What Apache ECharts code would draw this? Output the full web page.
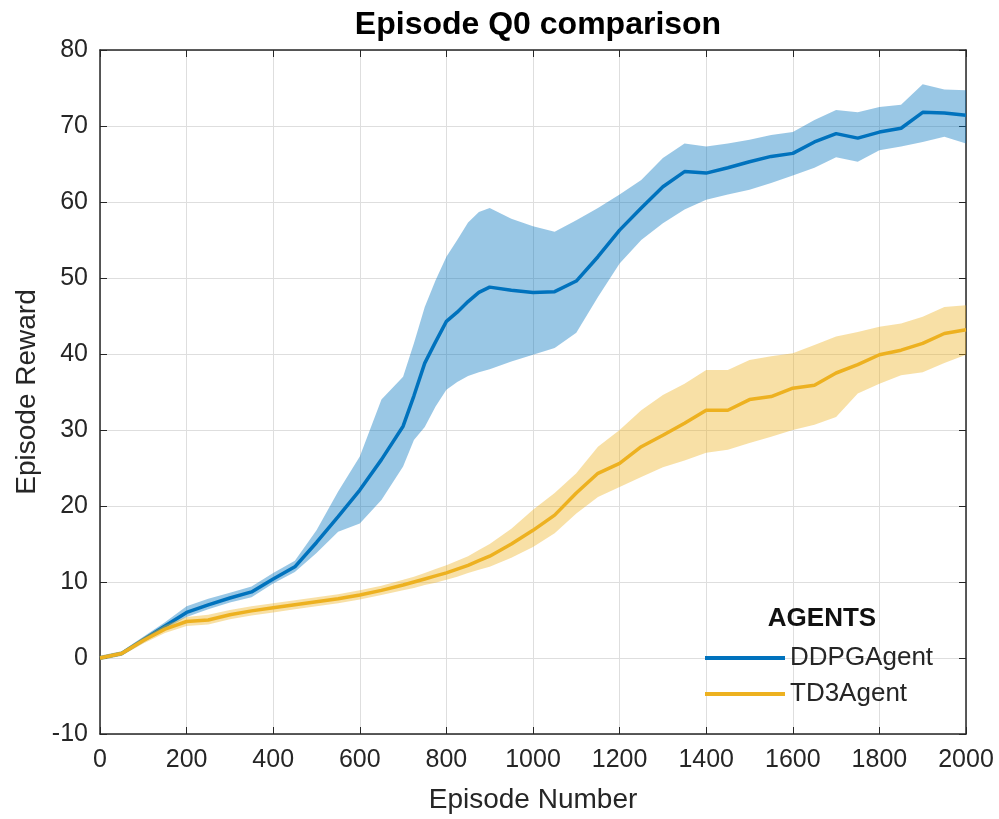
<!DOCTYPE html>
<html>
<head>
<meta charset="utf-8">
<script src="https://cdn.jsdelivr.net/npm/echarts@6/dist/echarts.min.js"></script>
<style>html,body{margin:0;padding:0;background:#fff}#c{width:999px;height:819px}</style>
</head>
<body>
<div id="c"></div>
<script>
const episodes = [0,50,100,150,200,250,300,350,400,450,500,550,600,650,700,725,750,775,800,825,850,875,900,950,1000,1050,1100,1150,1200,1250,1300,1350,1400,1450,1500,1550,1600,1650,1700,1750,1800,1850,1900,1950,2000];
const ddpgMean  = [0,0.6,2.4,4.2,6.0,7.0,7.9,8.7,10.4,12.0,15.2,18.6,22.1,26.1,30.5,34.5,38.8,41.6,44.3,45.5,46.9,48.1,48.8,48.4,48.1,48.2,49.6,52.8,56.3,59.2,62.0,64.0,63.8,64.5,65.3,66.0,66.4,67.9,69.0,68.4,69.2,69.7,71.8,71.7,71.4];
const ddpgUpper = [0.3,0.9,2.8,4.7,6.8,7.8,8.6,9.4,11.2,12.8,16.8,21.9,26.5,34.0,37.0,41.4,46.2,49.7,52.8,55.0,57.3,58.7,59.2,57.8,56.8,56.1,57.6,59.2,61.0,62.9,65.8,67.7,67.3,67.7,68.2,68.8,69.2,70.8,72.1,71.8,72.5,72.8,75.5,74.8,74.7];
const ddpgLower = [-0.3,0.3,2.0,3.8,5.4,6.4,7.3,8.0,9.8,11.3,13.8,16.6,17.7,20.8,25.2,28.7,30.4,33.1,35.3,36.3,37.1,37.6,38.0,39.0,39.9,40.8,42.8,47.5,51.9,55.0,57.2,59.0,60.3,61.0,61.6,62.5,63.5,64.5,65.9,65.3,66.8,67.3,67.9,68.6,67.7];
const td3Mean   = [0,0.6,2.3,3.8,4.8,5.0,5.7,6.2,6.6,7.0,7.4,7.8,8.3,8.9,9.6,10.0,10.4,10.8,11.2,11.7,12.2,12.8,13.4,15.0,16.8,18.8,21.7,24.3,25.6,27.8,29.3,30.9,32.6,32.6,34.0,34.4,35.5,35.9,37.5,38.6,39.9,40.5,41.4,42.7,43.2];
const td3Upper  = [0.3,0.9,2.7,4.3,5.4,5.7,6.3,6.8,7.2,7.6,8.0,8.4,8.9,9.5,10.3,10.7,11.2,11.7,12.2,12.8,13.4,14.2,15.0,17.0,19.5,21.7,24.3,27.8,30.0,32.6,34.6,36.1,37.9,37.9,39.2,39.7,40.1,41.2,42.3,42.9,43.6,44.0,44.9,46.2,46.4];
const td3Lower  = [-0.3,0.3,1.9,3.3,4.2,4.4,5.1,5.6,6.0,6.4,6.8,7.2,7.7,8.3,8.9,9.2,9.6,9.9,10.3,10.7,11.2,11.6,12.0,13.2,14.6,16.4,19.0,21.2,22.5,23.8,25.1,26.0,27.0,27.4,28.3,29.1,30.0,30.7,31.7,34.8,36.1,37.2,37.6,38.8,39.9];
const xTicks = {min:0, max:2000, interval:200};
const yTicks = {min:-10, max:80, interval:10};
const seriesNames = ['DDPGAgent','TD3Agent'];

const pairs = (ys) => episodes.map((x,i)=>[x, ys[i]]);

const FONT = 'Liberation Sans, Arial, Helvetica, sans-serif';
const BLUE = '#0072BD', ORANGE = '#EDB120';
const axisCol = '#262626';

function bandSeries(id, lo, up, color, z){
  const data = episodes.map((x,i)=>[x, lo[i], up[i]]);
  return {
    name:id, type:'custom', silent:true, z:z,
    data:data, encode:{x:0, y:[1,2]},
    renderItem:function(params, api){
      if (params.dataIndexInside !== 0) return null;
      const pts = [];
      for (let i=0;i<data.length;i++) pts.push(api.coord([data[i][0], data[i][2]]));
      for (let i=data.length-1;i>=0;i--) pts.push(api.coord([data[i][0], data[i][1]]));
      return {type:'polygon', shape:{points:pts}, style:{fill:color, opacity:0.4}};
    }
  };
}

const chart = echarts.init(document.getElementById('c'), null, {renderer:'canvas'});
chart.setOption({
  animation:false,
  backgroundColor:'#fff',
  title:{text:'Episode Q0 comparison', left:533, textAlign:'center', top:4,
    textStyle:{fontFamily:FONT, fontWeight:'bold', fontSize:32, color:'#000'}},
  grid:{left:100, right:33, top:50, bottom:85},
  legend:{data:seriesNames, orient:'vertical', left:705, top:645, padding:0, icon:'rect', itemWidth:80, itemHeight:4, itemGap:10,
    textStyle:{fontFamily:FONT, fontSize:26, color:axisCol, lineHeight:25}},
  graphic:[{type:'text', z:100, style:{x:822, y:619, text:'AGENTS', font:'bold 26px '+FONT, fill:'#111', textAlign:'center', textVerticalAlign:'middle'}}],
  xAxis:[
    {type:'value', position:'bottom', min:xTicks.min, max:xTicks.max, interval:xTicks.interval,
     name:'Episode Number', nameLocation:'middle', nameGap:52,
     nameTextStyle:{fontFamily:FONT, fontSize:28, color:axisCol},
     axisLine:{show:true, onZero:false, lineStyle:{color:axisCol, width:1.5}},
     axisTick:{show:true, inside:true, length:7, lineStyle:{color:axisCol}},
     axisLabel:{fontFamily:FONT, fontSize:25, color:axisCol, margin:14, formatter:(v)=>String(v)},
     splitLine:{show:true, lineStyle:{color:'#dedede', width:1}}},
    {type:'value', position:'top', min:xTicks.min, max:xTicks.max, interval:xTicks.interval,
     axisLine:{show:true, onZero:false, lineStyle:{color:axisCol, width:1.5}},
     axisTick:{show:true, inside:true, length:7, lineStyle:{color:axisCol}},
     axisLabel:{show:false}, splitLine:{show:false}}
  ],
  yAxis:[
    {type:'value', position:'left', min:yTicks.min, max:yTicks.max, interval:yTicks.interval,
     name:'Episode Reward', nameLocation:'middle', nameGap:58,
     nameTextStyle:{fontFamily:FONT, fontSize:28, color:axisCol},
     axisLine:{show:true, onZero:false, lineStyle:{color:axisCol, width:1.5}},
     axisTick:{show:true, inside:true, length:7, lineStyle:{color:axisCol}},
     axisLabel:{fontFamily:FONT, fontSize:25, color:axisCol, margin:12, formatter:(v)=>String(v)},
     splitLine:{show:true, lineStyle:{color:'#dedede', width:1}}},
    {type:'value', position:'right', min:yTicks.min, max:yTicks.max, interval:yTicks.interval,
     axisLine:{show:true, onZero:false, lineStyle:{color:axisCol, width:1.5}},
     axisTick:{show:true, inside:true, length:7, lineStyle:{color:axisCol}},
     axisLabel:{show:false}, splitLine:{show:false}}
  ],
  series:[
    bandSeries('ddpgBand', ddpgLower, ddpgUpper, BLUE, 1),
    {name:seriesNames[0], type:'line', data:pairs(ddpgMean), showSymbol:false, symbol:'none', color:BLUE,
     lineStyle:{color:BLUE, width:3.5}, z:2},
    bandSeries('td3Band', td3Lower, td3Upper, ORANGE, 3),
    {name:seriesNames[1], type:'line', data:pairs(td3Mean), showSymbol:false, symbol:'none', color:ORANGE,
     lineStyle:{color:ORANGE, width:3.5}, z:4}
  ]
});
</script>
</body>
</html>
